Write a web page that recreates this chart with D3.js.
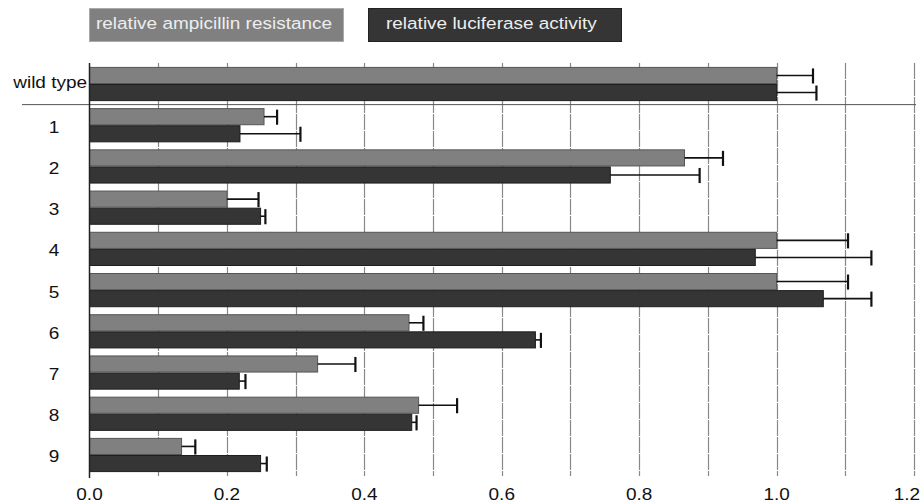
<!DOCTYPE html>
<html><head><meta charset="utf-8">
<script src="https://cdn.jsdelivr.net/npm/d3@7"></script>
<style>body{margin:0;background:#fff}svg{display:block;font-family:"Liberation Sans",Arial,sans-serif}</style>
</head><body><svg id="c" width="922" height="504"></svg>
<script>
const categories = ["wild type","1","2","3","4","5","6","7","8","9"];
const seriesNames = ["relative ampicillin resistance","relative luciferase activity"];
const ampicillin = [1.0,0.254,0.866,0.200,1.0,1.0,0.465,0.332,0.479,0.134];
const ampicillinErr = [1.053,0.273,0.922,0.246,1.104,1.104,0.486,0.387,0.535,0.154];
const luciferase = [1.0,0.219,0.758,0.249,0.969,1.068,0.649,0.218,0.469,0.249];
const luciferaseErr = [1.058,0.307,0.888,0.256,1.138,1.138,0.657,0.227,0.476,0.258];
const xTicks = [0,0.2,0.4,0.6,0.8,1.0,1.2];
const gridTicks = [0.1,0.2,0.3,0.4,0.5,0.6,0.7,0.8,0.9,1.0,1.1,1.2];
const colors = ["#808080","#353535"];

const FS = 16.5, SX = 1.15;
const svg = d3.select("#c");
const x = d3.scaleLinear().domain([0,1.2]).range([89.5,914]);
const y = d3.scaleBand().domain(categories).range([63.4,475.6]).paddingInner(0.17).paddingOuter(0.085);
const ys = d3.scaleBand().domain([0,1]).range([0,y.bandwidth()]);

function label(sel, tx, ty, anchor, txt, fill){
  sel.append("text").attr("transform",`translate(${tx},${ty}) scale(${SX},1)`)
    .attr("text-anchor",anchor).attr("font-size",FS).attr("fill",fill||"#111").text(txt);
}

// gridlines
svg.append("g").selectAll("line").data(gridTicks).join("line")
  .attr("x1",d=>Math.round(x(d))+0.5).attr("x2",d=>Math.round(x(d))+0.5)
  .attr("y1",63).attr("y2",476)
  .attr("stroke","#888").attr("stroke-width",1.2)
  .attr("stroke-dasharray","16,1");

// separator line
const sepY = (y("wild type")+y.bandwidth()+y("1"))/2;
svg.append("line").attr("x1",22).attr("x2",916).attr("y1",sepY).attr("y2",sepY)
  .attr("stroke","#555").attr("stroke-width",1);

const data = categories.map((c,i)=>({c, vals:[{s:0,v:ampicillin[i],e:ampicillinErr[i]},{s:1,v:luciferase[i],e:luciferaseErr[i]}]}));

const g = svg.append("g").selectAll("g").data(data).join("g")
  .attr("transform",d=>`translate(0,${y(d.c)})`);

g.selectAll("rect").data(d=>d.vals).join("rect")
  .attr("x",x(0)).attr("y",d=>ys(d.s)+0.5)
  .attr("width",d=>x(d.v)-x(0)).attr("height",ys.bandwidth()-1)
  .attr("fill",d=>colors[d.s])
  .attr("stroke",d=>d.s===0?"#555":"#1e1e1e").attr("stroke-width",1);

// error bars
g.selectAll("line.eb").data(d=>d.vals).join("line").attr("class","eb")
  .attr("x1",d=>x(d.v)).attr("x2",d=>x(d.e))
  .attr("y1",d=>ys(d.s)+ys.bandwidth()/2).attr("y2",d=>ys(d.s)+ys.bandwidth()/2)
  .attr("stroke","#111").attr("stroke-width",1.6);
g.selectAll("line.cap").data(d=>d.vals).join("line").attr("class","cap")
  .attr("x1",d=>x(d.e)).attr("x2",d=>x(d.e))
  .attr("y1",d=>ys(d.s)+1.5).attr("y2",d=>ys(d.s)+ys.bandwidth()-0.5)
  .attr("stroke","#111").attr("stroke-width",2.2);

// y axis line
svg.append("line").attr("x1",89.5).attr("x2",89.5).attr("y1",63).attr("y2",478)
  .attr("stroke","#222").attr("stroke-width",1.5);

// y labels
const yl = svg.append("g");
categories.forEach(c=>{
  const cy = y(c)+y.bandwidth()/2;
  if(c==="wild type") label(yl, 87, cy+3.5, "end", c);
  else label(yl, 54, cy+7.5, "middle", c);
});

// x axis labels
const xl = svg.append("g");
xTicks.forEach((t,i)=>{
  const last = i===xTicks.length-1;
  label(xl, last?920:x(t), 500, last?"end":"middle", d3.format(".1f")(t));
});

// legend
const leg = [{x:89,w:254,tx:96},{x:368,w:253,tx:386}];
const lg = svg.append("g");
seriesNames.forEach((s,i)=>{
  lg.append("rect").attr("x",leg[i].x+0.5).attr("y",8.5).attr("width",leg[i].w).attr("height",33)
    .attr("fill",colors[i]).attr("stroke",i===0?"#aaa":"#222");
  label(lg, leg[i].tx, 29, "start", s, "#eee");
});
</script></body></html>
